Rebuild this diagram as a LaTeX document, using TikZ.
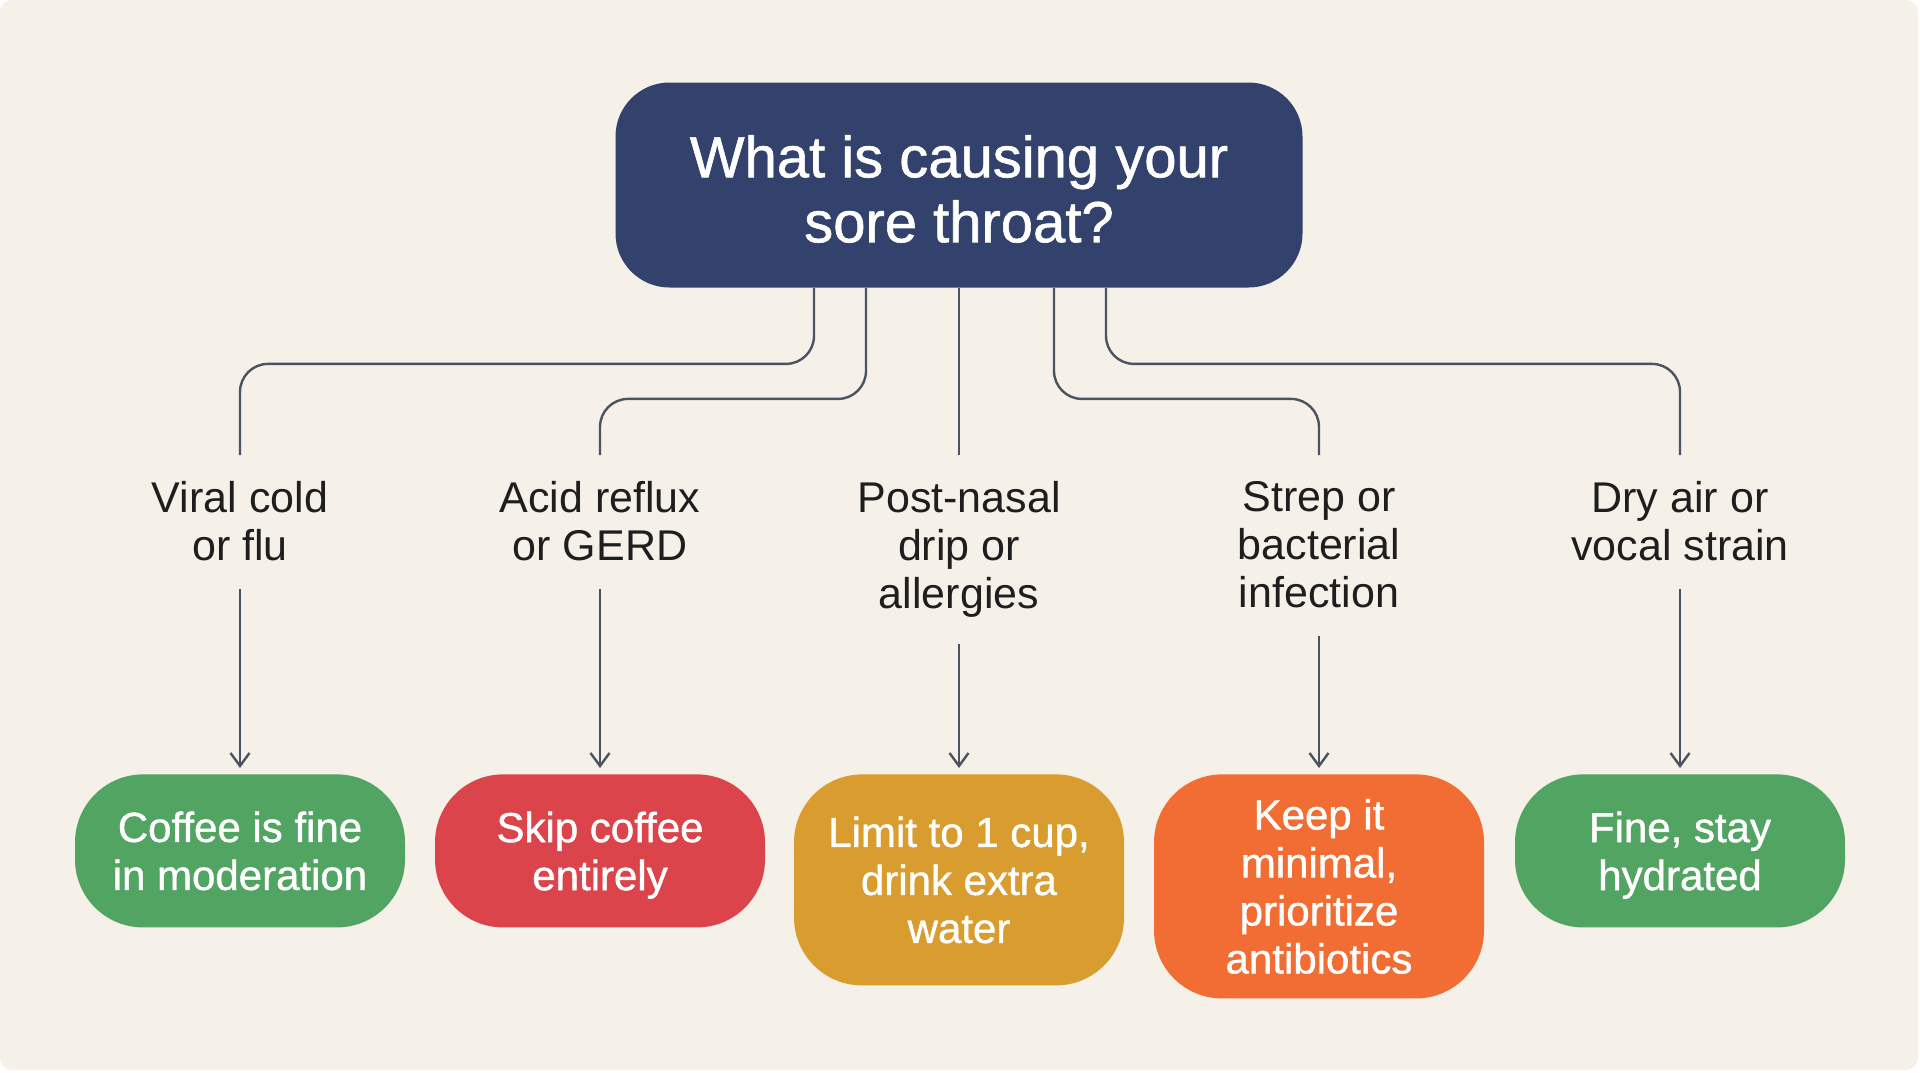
\documentclass[tikz,border=0pt]{standalone}
\usepackage{fontspec}
\setmainfont{Liberation Sans}
\newfontfamily\medfont{Liberation Sans}[FakeBold=1]
\usetikzlibrary{arrows.meta}
\definecolor{cream}{HTML}{F5F1E8}
\definecolor{navy}{HTML}{33426D}
\definecolor{linkgray}{HTML}{4B5262}
\definecolor{ink}{HTML}{1E1E1E}
\definecolor{okgreen}{HTML}{52A463}
\definecolor{stopred}{HTML}{DB444B}
\definecolor{amber}{HTML}{D89C2F}
\definecolor{warnorange}{HTML}{F26D33}
\tikzset{>={Straight Barb[length=6.5pt,width=9.5pt]}}
\tikzset{
  question/.style={fill=navy, rounded corners=27pt, text=white, align=center,
    minimum width=343.5pt, minimum height=102.5pt,
    execute at begin node={\rule{0pt}{57.5pt}},
    font=\medfont\fontsize{29}{32.5}\selectfont},
  cause/.style={anchor=north, align=center, inner xsep=11pt, inner ysep=13pt, text=ink,
    execute at end node={\rule[-1pt]{0pt}{1pt}},
    font=\fontsize{21.5}{24}\selectfont},
  advice/.style={anchor=north, rounded corners=34pt, text=white, align=center,
    minimum width=165pt, font=\medfont\fontsize{21}{24}\selectfont},
  link/.style={draw=linkgray, line width=1.2pt, rounded corners=14pt}
}

\begin{document}
\begin{tikzpicture}[x=0.5pt, y=-0.5pt]
                \useasboundingbox (0,0) rectangle (1920,1072);
                \fill[white] (0,0) rectangle (1920,1072);
                \fill[cream, rounded corners=6pt] (0,0) rectangle (1918,1070);

                \node[question] (q) at (959,185) {What is causing your\\sore throat?};

                % causes
                \node[cause] (l1) at (240,455) {Viral cold\\or flu};
                \node[cause] (l2) at (600,455) {Acid reflux\\or GERD};
                \node[cause] (l3) at (959,455) {Post-nasal\\drip or\\allergies};
                \node[cause] (l4) at (1319,455) {Strep or\\bacterial\\infection};
                \node[cause] (l5) at (1680,455) {Dry air or\\vocal strain};

                % advice
                \node[advice, fill=okgreen, minimum height=76.5pt] (b1) at (240,774) {Coffee is fine\\in moderation};
                \node[advice, fill=stopred, minimum height=76.5pt] (b2) at (600,774) {Skip coffee\\\smash{entirely}};
                \node[advice, fill=amber, minimum height=105.5pt] (b3) at (959,774) {Limit to 1 cup,\\drink extra\\water};
                \node[advice, fill=warnorange, minimum height=112pt] (b4) at (1319,774) {Keep it\\minimal,\\prioritize\\antibiotics};
                \node[advice, fill=okgreen, minimum height=76.5pt] (b5) at (1680,774) {Fine, stay\\\smash{hydrated}};

                % question to causes
                \draw[link] ([xshift=-72.5pt]q.south) -- ++(0,76) -| (l1.north);
                \draw[link] ([xshift=-46.5pt]q.south) -- ++(0,111) -| (l2.north);
                \draw[link] (q.south) -- (l3.north);
                \draw[link] ([xshift=47.5pt]q.south) -- ++(0,111) -| (l4.north);
                \draw[link] ([xshift=73.5pt]q.south) -- ++(0,76) -| (l5.north);

                % causes to advice
                \draw[link, ->, shorten >=3pt] (l1.south) -- (b1.north);
                \draw[link, ->, shorten >=3pt] (l2.south) -- (b2.north);
                \draw[link, ->, shorten >=3pt] (l3.south) -- (b3.north);
                \draw[link, ->, shorten >=3pt] (l4.south) -- (b4.north);
                \draw[link, ->, shorten >=3pt] (l5.south) -- (b5.north);
            \end{tikzpicture}
\end{document}
